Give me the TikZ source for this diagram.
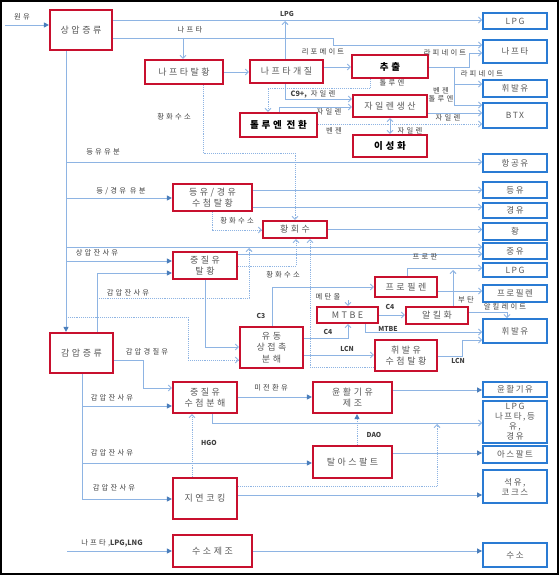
\documentclass[tikz,border=0pt]{standalone}
\usepackage{fontspec}
\setmainfont{Noto Sans CJK KR}
\newfontfamily\kr[LetterSpace=28]{Noto Sans CJK KR}
\newfontfamily\krb[LetterSpace=18]{Noto Sans CJK KR}
\newfontfamily\krl[LetterSpace=30]{Noto Sans CJK KR}
\newfontfamily\krlat{Noto Sans CJK KR}
\usetikzlibrary{arrows.meta}
\definecolor{lnblue}{HTML}{8EB4E3}
\definecolor{tipblue}{HTML}{4A7EBB}
\definecolor{boxred}{HTML}{C8102E}
\definecolor{boxblue}{HTML}{2A7BD3}
\definecolor{txtgray}{HTML}{595959}
\definecolor{lblgray}{HTML}{404040}
\tikzset{
 rbox/.style={draw=boxred, line width=2.2pt, fill=white, inner sep=0pt, align=center, text=txtgray, font=\kr\fontsize{9}{11.5}\selectfont},
 rboxb/.style={rbox, text=black, font=\kr\bfseries\fontsize{9.5}{11}\selectfont},
 bbox/.style={draw=boxblue, line width=1.8pt, fill=white, inner sep=0pt, align=center, text=txtgray, font=\krb\fontsize{8.5}{10}\selectfont, minimum width=64pt},
 lbl/.style={text=lblgray, font=\krl\fontsize{7.3}{8.5}\selectfont, inner sep=0pt, align=center},
 lbla/.style={text=lblgray, font=\krlat\bfseries\fontsize{6.8}{8}\selectfont, inner sep=0pt, align=center},
 ln/.style={draw=lnblue, line width=0.9pt},
 oa/.style={-{Straight Barb[length=3pt,width=6pt]}},
 fa/.style={-{Triangle[length=5pt,width=5pt,color=tipblue]}},
 dt/.style={densely dotted},
}
\begin{document}
\begin{tikzpicture}[x=1pt,y=-1pt]
\useasboundingbox (0,0) rectangle (559,575);
\fill[white] (0,0) rectangle (559,575);
% red process boxes
\node[rbox, minimum width=62pt, minimum height=40pt] (atm) at (81,30) {상압증류};
\node[rbox, minimum width=78pt, minimum height=24pt] (nhdt) at (184,72) {나프타탈황};
\node[rbox, minimum width=73pt, minimum height=23pt] (ref) at (286.5,71.5) {나프타개질};
\node[rboxb, minimum width=76pt, minimum height=23pt] (ext) at (390,66.5) {추출};
\node[rbox, minimum width=74pt, minimum height=22pt] (xyl) at (390,106) {자일렌생산};
\node[rboxb, minimum width=77pt, minimum height=24pt] (tol) at (278.5,125) {톨루엔 전환};
\node[rboxb, minimum width=74pt, minimum height=22pt] (iso) at (390,146) {이성화};
\node[rbox, minimum width=79pt, minimum height=27pt] (kd) at (212.5,197.5) {등유/경유\\수첨탈황};
\node[rbox, minimum width=64pt, minimum height=17pt] (sru) at (295,229.5) {황회수};
\node[rbox, minimum width=64pt, minimum height=27pt] (rhds) at (205,265.5) {중질유\\탈황};
\node[rbox, minimum width=62pt, minimum height=20pt] (prp) at (406,287) {프로필렌};
\node[rbox, minimum width=61pt, minimum height=16pt] (mtbe) at (347.5,315) {MTBE};
\node[rbox, minimum width=62pt, minimum height=17pt] (alk) at (437,315.5) {알킬화};
\node[rbox, minimum width=63pt, minimum height=41pt] (fcc) at (271.5,347.5) {유동\\상접촉\\분해};
\node[rbox, minimum width=62pt, minimum height=31pt] (gds) at (406,355.5) {휘발유\\수첨탈황};
\node[rbox, minimum width=63pt, minimum height=40pt] (vac) at (81.5,353) {감압증류};
\node[rbox, minimum width=64pt, minimum height=31pt] (hcr) at (205,397.5) {중질유\\수첨분해};
\node[rbox, minimum width=79pt, minimum height=31pt] (lube) at (352.5,397.5) {윤활기유\\제조};
\node[rbox, minimum width=79pt, minimum height=32pt] (sda) at (352.5,462) {탈아스팔트};
\node[rbox, minimum width=64pt, minimum height=41pt] (dc) at (205,498.5) {지연코킹};
\node[rbox, minimum width=79pt, minimum height=32pt] (h2) at (212.5,551) {수소제조};
% blue product boxes
\node[bbox, minimum height=16pt] (b1) at (515,21) {LPG};
\node[bbox, minimum height=23pt] (b2) at (515,51.5) {나프타};
\node[bbox, minimum height=17pt] (b3) at (515,88.5) {휘발유};
\node[bbox, minimum height=25pt] (b4) at (515,115.5) {BTX};
\node[bbox, minimum height=18pt] (b5) at (515,163) {항공유};
\node[bbox, minimum height=16pt] (b6) at (515,190) {등유};
\node[bbox, minimum height=15pt] (b7) at (515,210.5) {경유};
\node[bbox, minimum height=17pt] (b8) at (515,231.5) {황};
\node[bbox, minimum height=16pt] (b9) at (515,251) {중유};
\node[bbox, minimum height=14pt] (b10) at (515,270) {LPG};
\node[bbox, minimum height=17pt] (b11) at (515,293.5) {프로필렌};
\node[bbox, minimum height=24pt] (b12) at (515,331) {휘발유};
\node[bbox, minimum height=15pt] (b13) at (515,389.5) {윤활기유};
\node[bbox, minimum height=42pt] (b14) at (515,422) {LPG\\나프타,등\\유,\\경유};
\node[bbox, minimum height=17pt] (b15) at (515,454.5) {아스팔트};
\node[bbox, minimum height=33pt] (b16) at (515,486.5) {석유,\\코크스};
\node[bbox, minimum height=24pt] (b17) at (515,555) {수소};
% free ends
\coordinate (crude) at (5,25);
\coordinate (meoh) at (348,300);
\coordinate (feed) at (67,551);
% connectors top
\draw[ln,fa] (crude) -- (atm.west |- 0,25);
\draw[ln,oa] (atm.east |- 0,20) -- (b1.west |- 0,20);
\draw[ln,oa] (atm.east |- 0,38) -- (333,38) -- (333,45) -- (b2.west |- 0,45);
\draw[ln,oa] (183,38) -- (nhdt.north -| 183,0);
\draw[ln,oa] (nhdt.east) -- (ref.west |- nhdt.east);
\draw[ln,oa] (ref.north -| 285,0) -- (285,21);
\draw[ln,oa] (ref.east |- 0,67) -- (ext.west |- 0,67);
\draw[ln,oa] (ref.south -| 285,0) -- (285,99) -- (xyl.west |- 0,99);
\draw[ln,dt,oa] (ext.south -| 370,0) -- (370,88) -- (268,88) -- (tol.north -| 268,0);
\draw[ln,oa] (tol.north -| 279,0) -- (279,107) -- (xyl.west |- 0,107);
\draw[ln,dt,oa] (tol.east |- 0,124) -- (b4.west |- 0,124);
\draw[ln,{Straight Barb[length=3pt,width=6pt]}-{Straight Barb[length=3pt,width=6pt]}] (xyl.south -| 390,0) -- (iso.north -| 390,0);
\draw[ln,oa] (xyl.east |- 0,113) -- (b4.west |- 0,113);
\draw[ln,oa] (ext.east |- 0,67) -- (469,67) -- (469,53) -- (b2.west |- 0,53);
\draw[ln,oa] (454,67) -- (454,105) -- (b4.west |- 0,105);
\draw[ln,oa] (454,84) -- (b3.west |- 0,84);
% atmospheric trunk
\draw[ln,fa] (atm.south -| 66,0) -- (vac.north -| 66,0);
\draw[ln,oa] (66,162) -- (b5.west |- 0,162);
\draw[ln,fa] (66,198) -- (kd.west |- 0,198);
\draw[ln,oa] (66,247) -- (b9.west |- 0,247);
\draw[ln,fa] (66,261) -- (rhds.west |- 0,261);
\draw[ln,fa] (vac.north -| 97,0) -- (97,273) -- (rhds.west |- 0,273);
\draw[ln,dt,oa] (97,298) -- (249,298) -- (249,248);
\draw[ln,dt,oa] (66,317) -- (188,317) -- (188,360) -- (fcc.west |- 0,360);
\draw[ln,oa] (rhds.south -| 205,0) -- (205,347) -- (fcc.west |- 0,347);
\draw[ln,oa] (rhds.east |- 0,254) -- (b9.west |- 0,254);
% kero/diesel and sulfur
\draw[ln,oa] (kd.east |- 0,190) -- (b6.west |- 0,190);
\draw[ln,oa] (kd.east |- 0,207) -- (b7.west |- 0,207);
\draw[ln,dt,oa] (kd.south -| 212,0) -- (212,230) -- (sru.west |- 0,230);
\draw[ln,dt,oa] (nhdt.south -| 203,0) -- (203,153) -- (295,153) -- (sru.north -| 295,0);
\draw[ln,oa] (sru.east) -- (b8.west |- sru.east);
\draw[ln,dt,oa] (rhds.east |- 0,266) -- (296,266) -- (sru.south -| 296,0);
\draw[ln,dt,oa] (gds.west |- 0,367) -- (310,367) -- (sru.south -| 310,0);
% FCC area
\draw[ln,oa] (fcc.north -| 272,0) -- (272,287) -- (prp.west |- 0,287);
\draw[ln,oa] (fcc.east |- 0,338) -- (348,338) -- (mtbe.south -| 348,0);
\draw[ln,oa] (fcc.east |- 0,355) -- (gds.west |- 0,355);
\draw[ln,oa] (meoh) -- (mtbe.north -| 348,0);
\draw[ln,oa] (mtbe.east) -- (alk.west |- mtbe.east);
\draw[ln,oa] (mtbe.south -| 365,0) -- (365,332) -- (b12.west |- 0,332);
\draw[ln,oa] (prp.north -| 407,0) -- (407,268) -- (b10.west |- 0,268);
\draw[ln,oa] (prp.east |- 0,291) -- (b11.west |- 0,291);
\draw[ln,oa] (alk.north -| 453,0) -- (453,270);
\draw[ln,oa] (alk.east |- 0,312) -- (507,312) -- (b12.north -| 507,0);
\draw[ln,oa] (gds.east |- 0,356) -- (462,356) -- (462,340) -- (b12.west |- 0,340);
% vacuum area
\draw[ln,oa] (vac.east |- 0,360) -- (143,360) -- (143,388) -- (hcr.west |- 0,388);
\draw[ln,fa] (vac.south -| 82,0) -- (82,499) -- (dc.west |- 0,499);
\draw[ln,fa] (82,406) -- (hcr.west |- 0,406);
\draw[ln,fa] (82,463) -- (sda.west |- 0,463);
\draw[ln,fa] (hcr.east |- 0,397) -- (lube.west |- 0,397);
\draw[ln,oa] (hcr.south -| 212,0) -- (212,423) -- (b14.west |- 0,423);
\draw[ln,fa] (lube.east |- 0,390) -- (b13.west |- 0,390);
\draw[ln,dt,fa] (sda.north -| 357,0) -- (lube.south -| 357,0);
\draw[ln,fa] (sda.east |- 0,453) -- (b15.west |- 0,453);
\draw[ln,dt,oa] (dc.north -| 192,0) -- (hcr.south -| 192,0);
\draw[ln,dt,oa] (dc.east |- 0,486) -- (437,486) -- (437,424);
\draw[ln,fa] (dc.east |- 0,495) -- (b16.west |- 0,495);
\draw[ln,fa] (feed) -- (h2.west |- 0,551);
\draw[ln,fa] (h2.east |- 0,551) -- (b17.west |- 0,551);
% labels
\node[lbl] (t1) at (22,17) {원유};
\node[lbla] (t2) at (287,14) {LPG};
\node[lbl] (t3) at (190,30) {나프타};
\node[lbl] (t4) at (323,52) {리포메이트};
\node[lbl] (t5) at (445,53) {라피네이트};
\node[lbl] (t6) at (482,74) {라피네이트};
\node[lbl] (t7) at (392,83) {톨루엔};
\node[lbl] (t8) at (313,94) {{\krlat\bfseries C9+,} 자일렌};
\node[lbl] (t9) at (441,95) {벤젠\\톨루엔};
\node[lbl] (t10) at (329,112) {자일렌};
\node[lbl] (t11) at (448,118) {자일렌};
\node[lbl] (t12) at (334,131) {벤젠};
\node[lbl] (t13) at (410,131) {자일렌};
\node[lbl] (t14) at (174,117) {황화수소};
\node[lbl] (t15) at (103,152) {등유유분};
\node[lbl] (t16) at (121,191) {등/경유 유분};
\node[lbl] (t17) at (237,221) {황화수소};
\node[lbl] (t18) at (97,253) {상압잔사유};
\node[lbl] (t19) at (283,275) {황화수소};
\node[lbl] (t20) at (128,293) {감압잔사유};
\node[lbl] (t21) at (425,257) {프로판};
\node[lbla] (t22) at (261,316) {C3};
\node[lbl] (t23) at (328,297) {메탄올};
\node[lbla] (t24) at (390,307) {C4};
\node[lbl] (t25) at (466,300) {부탄};
\node[lbl] (t26) at (505,307) {알킬레이트};
\node[lbla] (t27) at (328,332) {C4};
\node[lbla] (t28) at (388,329) {MTBE};
\node[lbla] (t29) at (347,349) {LCN};
\node[lbla] (t30) at (458,361) {LCN};
\node[lbl] (t31) at (147,352) {감압경질유};
\node[lbl] (t32) at (112,398) {감압잔사유};
\node[lbl] (t33) at (271,388) {미전환유};
\node[lbla] (t34) at (209,443) {HGO};
\node[lbla] (t35) at (374,435) {DAO};
\node[lbl] (t36) at (112,453) {감압잔사유};
\node[lbl] (t37) at (114,488) {감압잔사유};
\node[lbl] (t38) at (112,543) {나프타,{\krlat\bfseries LPG,LNG}};
% frame
\draw[black, line width=2pt] (1,1) rectangle (558,574);
\end{tikzpicture}
\end{document}
